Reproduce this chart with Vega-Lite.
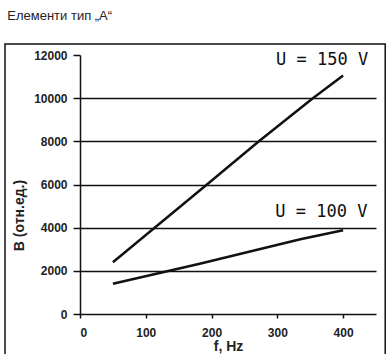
{
  "$schema": "https://vega.github.io/schema/vega-lite/v6.json",
  "width": 296,
  "height": 259,
  "autosize": {"type": "none"},
  "padding": {"left": 80, "top": 55, "right": 11, "bottom": 40},
  "background": "white",
  "title": {"text": "Елементи тип „A“", "anchor": "start", "frame": "bounds", "font": "Liberation Sans", "fontSize": 13, "fontWeight": "normal", "color": "#222", "offset": 20, "dx": 3},
  "config": {"view": {"stroke": null}},
  "datasets": {
    "curves": [
      {"series": "U = 150 V", "f": 50, "B": 2400},
      {"series": "U = 150 V", "f": 193, "B": 6000},
      {"series": "U = 150 V", "f": 272, "B": 8000},
      {"series": "U = 150 V", "f": 354, "B": 10000},
      {"series": "U = 150 V", "f": 400, "B": 11050},
      {"series": "U = 100 V", "f": 50, "B": 1400},
      {"series": "U = 100 V", "f": 182, "B": 2330},
      {"series": "U = 100 V", "f": 335, "B": 3460},
      {"series": "U = 100 V", "f": 400, "B": 3880}
    ],
    "labels": [
      {"label": "U = 150 V", "f": 368, "B": 11770},
      {"label": "U = 100 V", "f": 367, "B": 4740}
    ]
  },
  "encoding": {
    "x": {"type": "quantitative", "scale": {"domain": [0, 450], "nice": false},
      "axis": {"title": "f, Hz", "values": [0, 100, 200, 300, 400], "grid": false, "domainColor": "#111", "domainWidth": 1.5, "tickColor": "#111", "tickWidth": 1.5, "tickSize": 4, "labelPadding": 9, "labelFont": "Liberation Sans", "labelFontSize": 12, "labelFontWeight": "bold", "labelColor": "#222", "titleFont": "Liberation Sans", "titleFontSize": 14, "titleFontWeight": "bold", "titleColor": "#222", "titlePadding": 1}},
    "y": {"type": "quantitative", "scale": {"domain": [0, 12000], "nice": false},
      "axis": {"title": "B (отн.ед.)", "format": "d", "values": [0, 2000, 4000, 6000, 8000, 10000, 12000], "grid": true, "gridColor": "#111", "gridWidth": 1.5, "gridOpacity": {"condition": {"test": "datum.value == 12000 || datum.value == 0", "value": 0}, "value": 1}, "domainColor": "#111", "domainWidth": 1.5, "tickColor": "#111", "tickWidth": 1.5, "tickSize": 7, "labelPadding": 6, "labelFont": "Liberation Sans", "labelFontSize": 12, "labelFontWeight": "bold", "labelColor": "#222", "titleFont": "Liberation Sans", "titleFontSize": 14, "titleFontWeight": "bold", "titleColor": "#222", "titleX": -61, "titleY": 160, "titleAlign": "center", "titleBaseline": "middle"}}
  },
  "layer": [
    {
      "data": {"name": "curves"},
      "mark": {"type": "line", "color": "#111", "strokeWidth": 2.5},
      "encoding": {
        "x": {"field": "f"},
        "y": {"field": "B"},
        "detail": {"field": "series"}
      }
    },
    {
      "data": {"name": "labels"},
      "mark": {"type": "text", "font": "DejaVu Sans Mono", "fontSize": 17, "color": "#111", "align": "center", "baseline": "middle"},
      "encoding": {
        "x": {"field": "f"},
        "y": {"field": "B"},
        "text": {"field": "label"}
      }
    },
    {
      "data": {"values": [{}]},
      "mark": {"type": "rect", "fill": null, "stroke": "#111", "strokeWidth": 1.5, "clip": false},
      "encoding": {
        "x": {"datum": -114},
        "x2": {"datum": 464},
        "y": {"datum": 12510},
        "y2": {"datum": -2200}
      }
    }
  ]
}
